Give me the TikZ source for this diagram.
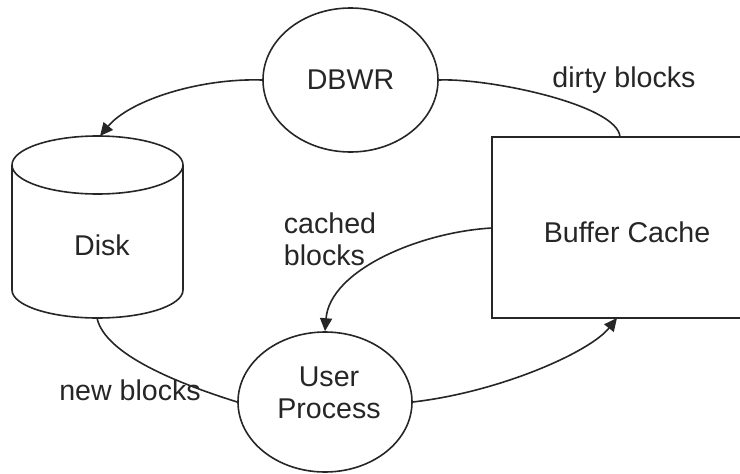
\documentclass[tikz,border=0pt]{standalone}
\usepackage{fontspec}
\setmainfont{Liberation Sans}
\usetikzlibrary{shapes.geometric,arrows.meta}
\begin{document}
\begin{tikzpicture}[x=1pt,y=-1pt,
  every node/.style={font=\fontsize{28.6}{33}\selectfont, text=black!85},
  line/.style={line width=1.6pt, black!85},
  flow/.style={line, -{Triangle[length=13pt,width=12pt]}},
  process/.style={draw, line, ellipse, inner sep=0pt},
  store/.style={draw, line, rectangle, inner sep=0pt},
  lbl/.style={inner sep=0pt}]
\useasboundingbox (0,0) rectangle (740,474);

% processes and buffer
\node[process, minimum width=175pt, minimum height=144pt] (dbwr) at (350.5,80) {DBWR};
\node[process, minimum width=174pt, minimum height=140pt] (user) at (325,402) {};
\node[lbl, align=center] (usertext) at (329,393) {User\\[-1pt]Process};
\node[store, minimum width=268pt, minimum height=181pt] (cache) at (626,227.5) {};
\node[lbl] (cachetext) at (627,232) {Buffer Cache};

% disk drawn as a cylinder
\draw[line, fill=white] (12,165) -- (12,290) arc[start angle=180, end angle=360, x radius=85.5pt, y radius=28pt]
  -- (183,165);
\draw[line] (97.5,165) ellipse [x radius=85.5pt, y radius=29pt];
\node[lbl] (disk) at (102,245) {Disk};
\coordinate (disktop) at (100,136);
\coordinate (diskbot) at (97,318);

% connector end points on the buffer box
\coordinate (cachetop) at (620,137);
\coordinate (cacheleft) at (492,228);
\coordinate (cachebot) at (617,318);

% data flows
\draw[flow] (dbwr.west) .. controls (200,78) and (130,100) .. (disktop);
\draw[line] (dbwr.east) .. controls (490,78) and (618,105) .. (cachetop);
\draw[flow] (cacheleft) .. controls (420,232) and (330,270) .. (user.north);
\draw[line] (diskbot) .. controls (105,355) and (180,384) .. (user.west);
\draw[flow] (user.east) .. controls (500,392) and (590,352) .. (cachebot);

% flow labels
\node[lbl] (dirty) at (624,80) {dirty blocks};
\node[lbl, align=left] (cached) at (330,239) {cached\\[-1pt]blocks};
\node[lbl] (newb) at (130,390) {new blocks};
\end{tikzpicture}
\end{document}
